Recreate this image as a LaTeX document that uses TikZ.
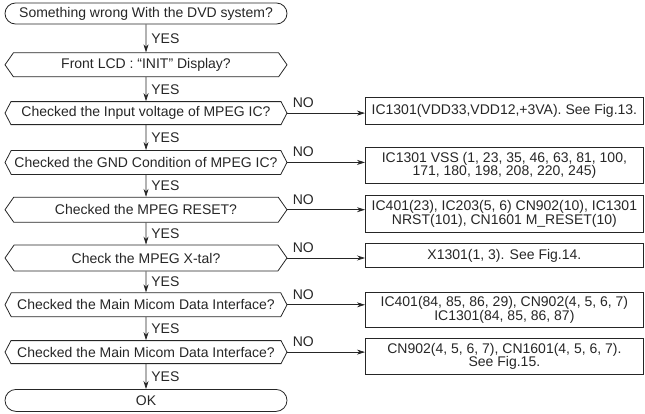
\documentclass[tikz,border=0pt]{standalone}
\usepackage{fontspec}
\setmainfont{Liberation Sans}
\usetikzlibrary{shapes.symbols, arrows.meta, positioning}
\tikzset{
  uc/.style={rectangle, rounded corners=10.5pt, draw=black!85, line width=0.8pt, minimum width=282pt, minimum height=21pt, inner sep=0pt, align=center},
  karar/.style={signal, signal to=west and east, signal pointer angle=110, draw=black!85, line width=0.8pt, minimum width=282pt, minimum height=24pt, inner xsep=0pt, inner ysep=0pt, align=center},
  kutu/.style={rectangle, draw=black!85, line width=0.8pt, minimum width=278pt, inner sep=0pt, align=center, anchor=north west},
  ok/.style={-{Stealth[length=8pt, width=5pt]}, line width=0.7pt, black!85},
  evet/.style={anchor=west, inner sep=0pt, xshift=5pt, text=black!85},
  hayir/.style={pos=0, anchor=south west, inner sep=0pt, xshift=5pt, yshift=5pt, text=black!85},
}

\begin{document}
\begin{tikzpicture}[x=1pt, y=-1pt, font=\fontsize{14pt}{13.5pt}\selectfont, text=black!85]
  \useasboundingbox (0,0) rectangle (645,413);
  % Sol sütun: karar zinciri
  \node[uc] (bas) at (146,13.5) {Something wrong With the DVD system?};
  \node[karar, below=28pt of bas] (k1) {Front LCD : “INIT” Display?};
  \node[karar, below=24pt of k1, minimum height=23pt, signal pointer angle=125] (k2) {Checked the Input voltage of MPEG IC?};
  \node[karar, below=25pt of k2, signal pointer angle=125] (k3) {Checked the GND Condition of MPEG IC?};
  \node[karar, below=22pt of k3, minimum height=25pt] (k4) {Checked the MPEG RESET?};
  \node[karar, below=22pt of k4, minimum height=26pt] (k5) {Check the MPEG X-tal?};
  \node[karar, below=21pt of k5, signal pointer angle=125] (k6) {Checked the Main Micom Data Interface?};
  \node[karar, below=23pt of k6, minimum height=23pt, signal pointer angle=125] (k7) {Checked the Main Micom Data Interface?};
  \node[uc, below=25pt of k7, minimum height=22pt, rounded corners=11pt] (son) {OK};
  % Sag sutun: kontrol noktalari
  \node[kutu, minimum height=27pt] (s2) at (365,97) {IC1301(VDD33,VDD12,+3VA). See Fig.13.};
  \node[kutu, minimum height=36pt] (s3) at (365,147) {IC1301 VSS (1, 23, 35, 46, 63, 81, 100,\\171, 180, 198, 208, 220, 245)};
  \node[kutu, minimum height=37pt] (s4) at (365,195) {IC401(23), IC203(5, 6) CN902(10), IC1301\\NRST(101), CN1601 M\_RESET(10)};
  \node[kutu, minimum height=24pt] (s5) at (365,243) {X1301(1, 3). See Fig.14.};
  \node[kutu, minimum height=35pt] (s6) at (365,292) {IC401(84, 85, 86, 29), CN902(4, 5, 6, 7)\\IC1301(84, 85, 86, 87)};
  \node[kutu, minimum height=36pt] (s7) at (365,338) {CN902(4, 5, 6, 7), CN1601(4, 5, 6, 7).\\See Fig.15.};
  % YES oklari
  \draw[ok] (bas) -- node[evet] {YES} (k1);
  \draw[ok] (k1) -- node[evet] {YES} (k2);
  \draw[ok] (k2) -- node[evet] {YES} (k3);
  \draw[ok] (k3) -- node[evet] {YES} (k4);
  \draw[ok] (k4) -- node[evet] {YES} (k5);
  \draw[ok] (k5) -- node[evet] {YES} (k6);
  \draw[ok] (k6) -- node[evet] {YES} (k7);
  \draw[ok] (k7) -- node[evet] {YES} (son);
  % NO oklari
  \draw[ok] (k2.east) -- node[hayir] {NO} (k2.east -| s2.west);
  \draw[ok] (k3.east) -- node[hayir] {NO} (k3.east -| s3.west);
  \draw[ok] (k4.east) -- node[hayir] {NO} (k4.east -| s4.west);
  \draw[ok] (k5.east) -- node[hayir] {NO} (k5.east -| s5.west);
  \draw[ok] (k6.east) -- node[hayir] {NO} (k6.east -| s6.west);
  \draw[ok] (k7.east) -- node[hayir] {NO} (k7.east -| s7.west);
\end{tikzpicture}
\end{document}
